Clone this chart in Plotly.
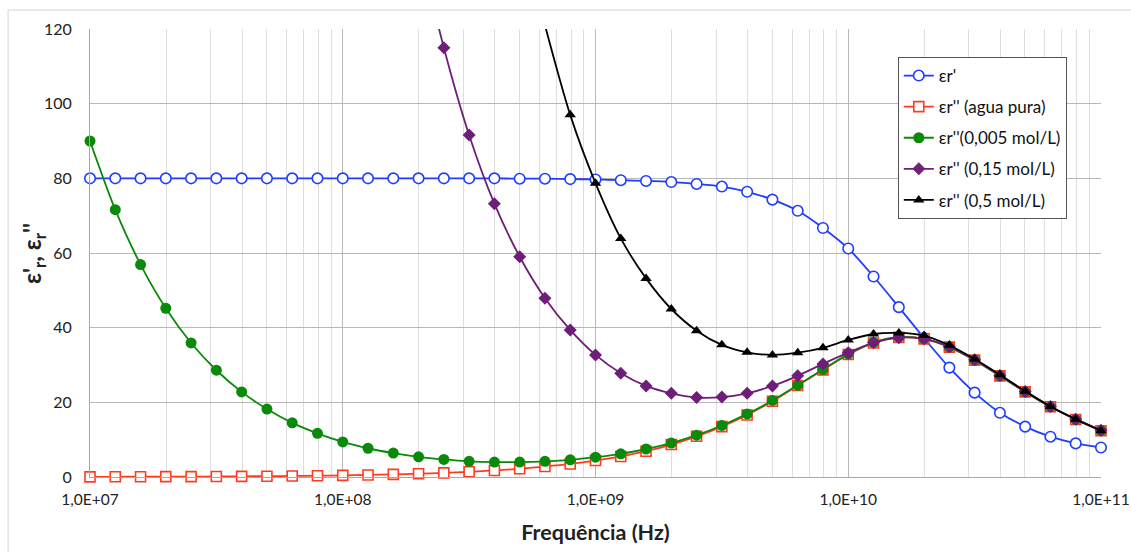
import plotly.graph_objects as go

freq = [1.000e7, 1.259e7, 1.585e7, 1.995e7, 2.512e7, 3.162e7, 3.981e7, 5.012e7, 6.310e7, 7.943e7,
        1.000e8, 1.259e8, 1.585e8, 1.995e8, 2.512e8, 3.162e8, 3.981e8, 5.012e8, 6.310e8, 7.943e8,
        1.000e9, 1.259e9, 1.585e9, 1.995e9, 2.512e9, 3.162e9, 3.981e9, 5.012e9, 6.310e9, 7.943e9,
        1.000e10, 1.259e10, 1.585e10, 1.995e10, 2.512e10, 3.162e10, 3.981e10, 5.012e10, 6.310e10, 7.943e10,
        1.000e11]

er_real = [80.0, 80.0, 80.0, 80.0, 80.0, 80.0, 80.0, 80.0, 80.0, 80.0,
           80.0, 80.0, 80.0, 80.0, 80.0, 80.0, 80.0, 79.9, 79.9, 79.8,
           79.7, 79.5, 79.3, 79.0, 78.5, 77.8, 76.4, 74.3, 71.3, 66.7,
           61.2, 53.7, 45.5, 37.2, 29.3, 22.6, 17.2, 13.5, 10.8, 9.0,
           7.9]

er_water = [0.04, 0.06, 0.07, 0.09, 0.11, 0.14, 0.18, 0.22, 0.28, 0.35,
            0.44, 0.55, 0.70, 0.88, 1.11, 1.39, 1.75, 2.2, 2.8, 3.5,
            4.4, 5.5, 6.9, 8.7, 10.9, 13.5, 16.6, 20.3, 24.5, 28.7,
            32.8, 35.9, 37.4, 37.0, 34.8, 31.3, 27.1, 22.8, 18.8, 15.4,
            12.4]

er_005 = [90.0, 71.6, 56.9, 45.2, 35.9, 28.6, 22.8, 18.2, 14.5, 11.7,
          9.4, 7.7, 6.4, 5.4, 4.7, 4.2, 4.0, 4.0, 4.2, 4.6,
          5.3, 6.2, 7.5, 9.1, 11.2, 13.8, 16.9, 20.5, 24.6, 28.8,
          32.9, 36.0, 37.5, 37.0, 34.8, 31.3, 27.1, 22.8, 18.8, 15.4,
          12.4]

er_015 = [None, None, None, None, None, None, None, None, None, None,
          None, None, None, 143.0, 115.0, 91.6, 73.2, 59.0, 47.9, 39.4,
          32.7, 27.8, 24.4, 22.4, 21.3, 21.4, 22.4, 24.4, 27.1, 30.3,
          33.3, 36.0, 37.3, 37.0, 34.9, 31.4, 27.2, 22.9, 18.9, 15.5,
          12.5]

er_05 = [None, None, None, None, None, None, None, None, None, None,
         None, None, None, None, None, None, None, None, 121.0, 97.0,
         78.7, 63.9, 53.2, 45.0, 39.2, 35.4, 33.4, 32.7, 33.3, 34.6,
         36.7, 38.3, 38.6, 37.9, 35.3, 31.6, 27.4, 23.0, 18.9, 15.5,
         12.4]

names = ["εr'", "εr'' (agua pura)", "εr''(0,005 mol/L)", "εr'' (0,15 mol/L)", "εr'' (0,5 mol/L)"]
x_tickvals = [1e7, 1e8, 1e9, 1e10, 1e11]
x_ticktext = ["1,0E+07", "1,0E+08", "1,0E+09", "1,0E+10", "1,0E+11"]
y_tickvals = [0, 20, 40, 60, 80, 100, 120]
Y_MAX = 120

FONT = "Lato, 'Open Sans', sans-serif"

series = [
    (er_real, names[0], "#1f3dff", dict(symbol="circle", size=10.5, color="white", line=dict(color="#1f3dff", width=1.6))),
    (er_water, names[1], "#ff3b1f", dict(symbol="square", size=10, color="white", line=dict(color="#ff3b1f", width=1.6))),
    (er_005, names[2], "#0a8a0a", dict(symbol="circle", size=11, color="#0a8a0a", line=dict(color="#0a8a0a", width=0))),
    (er_015, names[3], "#6e1e78", dict(symbol="diamond", size=10, color="#6e1e78", line=dict(color="#6e1e78", width=0))),
    (er_05, names[4], "#000000", dict(symbol="triangle-up", size=10, color="#000000", line=dict(color="#000000", width=0))),
]

fig = go.Figure()
for i, (vals, name, color, marker) in enumerate(series):
    # hide markers of points that lie above the visible range (line still runs off the top)
    marker = dict(marker, opacity=[0 if (v is not None and v > Y_MAX) else 1 for v in vals])
    fig.add_trace(go.Scatter(
        x=freq, y=vals, name=name, mode="lines+markers",
        line=dict(color=color, width=1.8, shape="spline", smoothing=0.8),
        marker=marker, legendgroup=f"g{i}", cliponaxis=False,
    ))

fig.update_layout(
    width=1131, height=552,
    margin=dict(l=90, r=30, t=29, b=75),
    paper_bgcolor="white", plot_bgcolor="white",
    font=dict(family=FONT, size=15, color="#222"),
    showlegend=True,
    legend=dict(
        x=0.799, y=0.9375, xanchor="left", yanchor="top",
        bgcolor="white", bordercolor="#555555", borderwidth=1,
        font=dict(family=FONT, size=17, color="#111"),
        tracegroupgap=6, itemwidth=30,
    ),
    xaxis=dict(
        type="log", range=[7, 11], automargin=False,
        tickvals=x_tickvals, ticktext=x_ticktext,
        showgrid=True, gridcolor="#b8b8b8", gridwidth=1,
        minor=dict(dtick="D1", showgrid=True, gridcolor="#dedede", gridwidth=1),
        showline=True, linecolor="#a8a8a8", linewidth=1,
        ticks="", ticklabelstandoff=8,
        tickfont=dict(family=FONT, size=15.5, color="#222"),
        title=dict(text="<b>Frequência (Hz)</b>", font=dict(family=FONT, size=21.5, color="#222"), standoff=18),
        zeroline=False,
    ),
    yaxis=dict(
        range=[0, Y_MAX], tickvals=y_tickvals, automargin=False,
        showgrid=True, gridcolor="#b8b8b8", gridwidth=1,
        showline=True, linecolor="#a8a8a8", linewidth=1,
        ticks="", ticklabelstandoff=14,
        tickfont=dict(family=FONT, size=16, color="#222"),
        zeroline=False,
    ),
    annotations=[dict(
        text="<b>ε'<sub>r</sub>, ε<sub>r</sub>''</b>", textangle=-90,
        xref="paper", yref="paper", x=-0.0564, y=0.5,
        xanchor="center", yanchor="middle", showarrow=False,
        font=dict(family=FONT, size=24, color="#222"),
    )],
    shapes=[dict(type="rect", xref="paper", yref="paper",
                 x0=-0.081, x1=1.06, y0=-0.25, y1=1.0424,
                 line=dict(color="#d4d4d4", width=1), layer="below")],
)

fig.write_html("out.html")
